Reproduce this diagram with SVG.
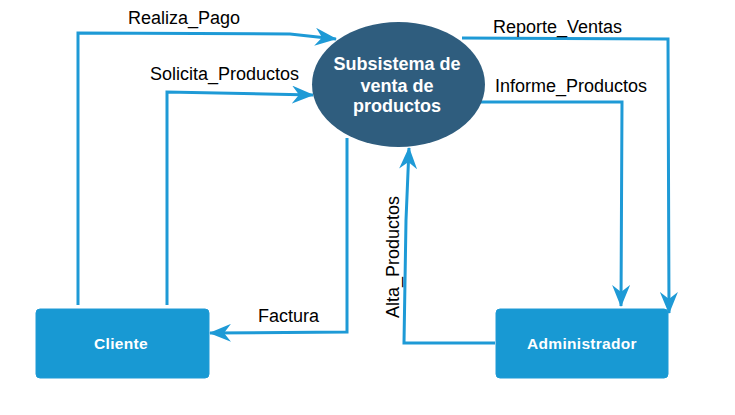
<svg xmlns="http://www.w3.org/2000/svg" width="735" height="415" viewBox="0 0 735 415">
  <style>
    .edge { fill: none; stroke: #1E9AD6; stroke-width: 3; }
    .lbl { font-family: "Liberation Sans", Arial, sans-serif; font-size: 18px; fill: #000; }
    .box { fill: #1899D3; stroke: #1E9AD6; stroke-width: 1; }
    .boxtxt { font-family: "Liberation Sans", Arial, sans-serif; font-size: 15.5px; font-weight: bold; fill: #fff; text-anchor: middle; letter-spacing: 0.3px; }
    .elltxt { font-family: "Liberation Sans", Arial, sans-serif; font-size: 18px; font-weight: bold; fill: #fff; text-anchor: middle; }
  </style>
  <defs>
    <marker id="arr" viewBox="0 0 22 18" refX="21" refY="9" markerWidth="22" markerHeight="18" markerUnits="userSpaceOnUse" orient="auto">
      <path d="M0,0 L22,9 L0,18 L7,9 Z" fill="#1E9AD6"/>
    </marker>
  </defs>
  <rect width="735" height="415" fill="#fff"/>
  <g id="connectors">
    <polyline class="edge" points="78,305 78,33 290,34 336,39" marker-end="url(#arr)"/>
    <polyline class="edge" points="167,305 167,92 313,95" marker-end="url(#arr)"/>
    <polyline class="edge" points="347,138 347,332 210,333" marker-end="url(#arr)"/>
    <polyline class="edge" points="462,38 668,39 669,313" marker-end="url(#arr)"/>
    <polyline class="edge" points="473,102 622,102 621,306" marker-end="url(#arr)"/>
    <polyline class="edge" points="495,343 404,343 406,220 409,148" marker-end="url(#arr)"/>
  </g>
  <g id="labels">
    <text class="lbl" x="128" y="24">Realiza_Pago</text>
    <text class="lbl" x="150" y="80">Solicita_Productos</text>
    <text class="lbl" x="493" y="33">Reporte_Ventas</text>
    <text class="lbl" x="495" y="92">Informe_Productos</text>
    <text class="lbl" x="258" y="322">Factura</text>
    <text class="lbl" transform="translate(399,257) rotate(-90)" text-anchor="middle">Alta_Productos</text>
  </g>
  <g id="subsistema">
    <ellipse cx="398.5" cy="84.5" rx="86.5" ry="62.5" fill="#2F5D7E"/>
    <text class="elltxt" x="397" y="70">Subsistema de</text>
    <text class="elltxt" x="397" y="92">venta de</text>
    <text class="elltxt" x="397" y="112">productos</text>
  </g>
  <g id="cliente">
    <rect class="box" x="36" y="309" width="173" height="69" rx="4"/>
    <text class="boxtxt" x="121" y="349">Cliente</text>
  </g>
  <g id="administrador">
    <rect class="box" x="496" y="309" width="172" height="69" rx="4"/>
    <text class="boxtxt" x="582" y="349">Administrador</text>
  </g>
</svg>
